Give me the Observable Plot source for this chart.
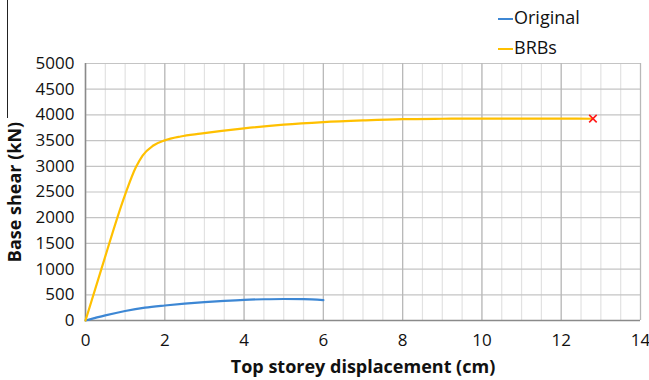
<!DOCTYPE html>
<html>
<head>
<meta charset="utf-8">
<script src="https://cdn.jsdelivr.net/npm/d3@7"></script>
<script src="https://cdn.jsdelivr.net/npm/@observablehq/plot@0.6"></script>
<style>
  html, body { margin: 0; padding: 0; background: #fff; }
  #wrap { position: relative; width: 649px; height: 380px; font-family: "Open Sans", sans-serif; }
  #edge { position: absolute; left: 7px; top: 0; width: 1px; height: 118px; background: #222; }
  .leg { position: absolute; left: 498px; font-size: 18px; color: #111; line-height: 20px; }
  .leg span.sw { display: inline-block; width: 15px; height: 2px; vertical-align: middle; margin-right: 1px; }
</style>
</head>
<body>
<div id="wrap">
  <div id="edge"></div>
  <div class="leg" style="top:7px"><span class="sw" style="background:#3d87d4"></span>Original</div>
  <div class="leg" style="top:37px"><span class="sw" style="background:#ffc000"></span>BRBs</div>
  <div id="chart"></div>
</div>
<script>
const seriesNames = ["Original", "BRBs"];
const originalX = [0, 0.5, 1.0, 1.5, 2.0, 2.5, 3.0, 3.5, 4.0, 4.5, 5.0, 5.5, 6.0];
const originalY = [0, 100, 185, 250, 292, 327, 357, 382, 402, 413, 418, 414, 396];
const brbX = [0, 0.4, 1.0, 1.27, 1.44, 1.7, 2.0, 2.4, 2.9, 4.0, 5.0, 6.0, 7.0, 8.0, 9.0, 10.0, 11.0, 12.0, 12.8];
const brbY = [0, 1000, 2450, 2980, 3210, 3400, 3505, 3580, 3635, 3737, 3810, 3859, 3892, 3917, 3925, 3928, 3928, 3927, 3925];
const failX = [12.8];
const failY = [3928];
const xTicks = [0, 2, 4, 6, 8, 10, 12, 14];
const xMinor = d3.range(0, 14.01, 0.5);
const yTicks = d3.range(0, 5001, 500);

const orig = originalX.map((x, i) => ({x, y: originalY[i], s: seriesNames[0]}));
const brb = brbX.map((x, i) => ({x, y: brbY[i], s: seriesNames[1]}));
const fail = failX.map((x, i) => ({x, y: failY[i]}));

const chart = Plot.plot({
  width: 649,
  height: 380,
  marginLeft: 85,
  marginRight: 9,
  marginTop: 63,
  marginBottom: 60,
  style: {fontFamily: "Open Sans, sans-serif", fontSize: "16px", color: "#111", background: "#fff"},
  x: {domain: [0, 14]},
  y: {domain: [0, 5000]},
  marks: [
    Plot.ruleX(xMinor, {stroke: "#e2e2e2", strokeWidth: 1.2}),
    Plot.ruleY(yTicks, {stroke: "#c4c4c4", strokeWidth: 1.2}),
    Plot.ruleX(xTicks, {stroke: "#b8b8b8", strokeWidth: 1.2}),
    Plot.ruleX([0], {stroke: "#8a8a8a", strokeWidth: 1.5}),
    Plot.ruleY([0], {stroke: "#8a8a8a", strokeWidth: 1.5}),
    Plot.axisX(xTicks, {tickSize: 0, tickPadding: 13, fontSize: 17, tickFormat: d3.format("d"), label: "Top storey displacement (cm)", labelAnchor: "center", labelArrow: "none", labelOffset: 52}),
    Plot.axisY(yTicks, {tickSize: 0, tickPadding: 11, fontSize: 17, tickFormat: d3.format("d"), label: "Base shear (kN)", labelAnchor: "center", labelArrow: "none", labelOffset: 77}),
    Plot.line(orig, {x: "x", y: "y", stroke: "#3d87d4", strokeWidth: 2.2, curve: "monotone-x"}),
    Plot.line(brb, {x: "x", y: "y", stroke: "#ffc000", strokeWidth: 2.2, curve: "monotone-x"}),
    Plot.dot(fail, {x: "x", y: "y", symbol: "times", r: 3.5, stroke: "#ff1a1a", strokeWidth: 1.6})
  ]
});
document.getElementById("chart").appendChild(chart);
chart.querySelectorAll("g[aria-label='x-axis label'] text, g[aria-label='y-axis label'] text").forEach(t => {
  t.setAttribute("font-weight", "bold");
  t.style.fontSize = "18px";
});
</script>
</body>
</html>
